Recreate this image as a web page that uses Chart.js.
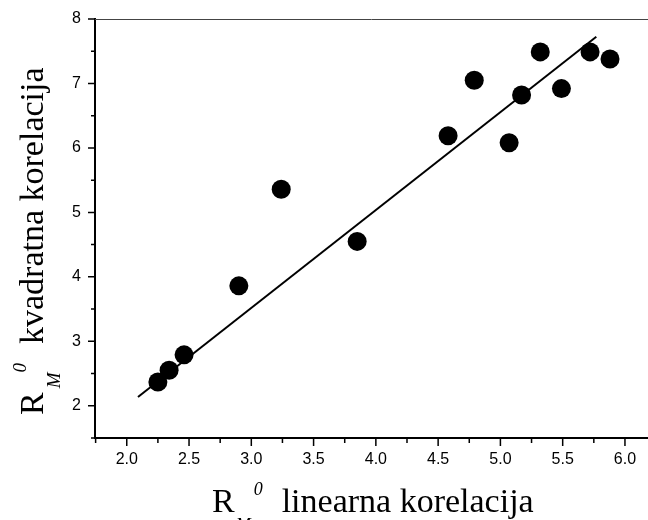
<!DOCTYPE html>
<html>
<head>
<meta charset="utf-8">
<script src="https://cdn.jsdelivr.net/npm/chart.js@4"></script>
<style>
  body { margin: 0; background: #fff; }
</style>
</head>
<body>
<canvas id="chart" width="648" height="520"></canvas>
<script>
// measured points: linear correlation (x) vs quadratic correlation (y)
var linearna = [2.25, 2.34, 2.46, 2.90, 3.24, 3.85, 4.58, 4.79, 5.07, 5.17, 5.32, 5.49, 5.72, 5.88];
var kvadratna = [2.37, 2.55, 2.79, 3.86, 5.36, 4.55, 6.19, 7.05, 6.08, 6.82, 7.49, 6.92, 7.49, 7.38];
// fitted line ends
var fitX = [2.09, 5.77];
var fitY = [2.135, 7.725];

var xTicks = [2.0, 2.5, 3.0, 3.5, 4.0, 4.5, 5.0, 5.5, 6.0];
var xMinor = [1.75, 2.25, 2.75, 3.25, 3.75, 4.25, 4.75, 5.25, 5.75];
var yTicks = [2, 3, 4, 5, 6, 7, 8];
var yMinor = [1.5, 2.5, 3.5, 4.5, 5.5, 6.5, 7.5];

var points = linearna.map(function(v, i){ return {x: v, y: kvadratna[i]}; });
var fit = fitX.map(function(v, i){ return {x: v, y: fitY[i]}; });

function drawTitle(ctx, o) {
    ctx.font = o.size + 'px "Liberation Serif"';
    ctx.fillText('R', 0, 0);
    var x = ctx.measureText('R').width + o.subGap;
    ctx.font = 'italic ' + o.small + 'px "Liberation Serif"';
    ctx.fillText('M', x, o.subDy);
    x += ctx.measureText('M').width + o.supGap;
    ctx.fillText('0', x, o.supDy);
    x += ctx.measureText('0').width + o.restGap;
    ctx.font = o.size + 'px "Liberation Serif"';
    ctx.fillText(o.text, x, 0);
}

var decor = {
    id: 'decor',
    afterDraw: function(chart) {
        var ctx = chart.ctx, a = chart.chartArea;
        var xs = chart.scales.x, ys = chart.scales.y;
        ctx.save();
        // top frame line
        ctx.strokeStyle = '#444';
        ctx.lineWidth = 1;
        ctx.beginPath();
        ctx.moveTo(a.left, a.top + 0.5);
        ctx.lineTo(a.right, a.top + 0.5);
        ctx.stroke();
        // ticks
        ctx.strokeStyle = '#000';
        ctx.lineWidth = 1.5;
        ctx.beginPath();
        xTicks.forEach(function(v){ var p = xs.getPixelForValue(v); ctx.moveTo(p, a.bottom); ctx.lineTo(p, a.bottom + 8); });
        xMinor.forEach(function(v){ var p = xs.getPixelForValue(v); ctx.moveTo(p, a.bottom); ctx.lineTo(p, a.bottom + 5); });
        yTicks.forEach(function(v){ var p = ys.getPixelForValue(v); ctx.moveTo(a.left, p); ctx.lineTo(a.left - 7, p); });
        yMinor.forEach(function(v){ var p = ys.getPixelForValue(v); ctx.moveTo(a.left, p); ctx.lineTo(a.left - 4, p); });
        ctx.stroke();

        ctx.fillStyle = '#000';
        ctx.textBaseline = 'alphabetic';
        ctx.textAlign = 'left';
        // x title
        ctx.save();
        ctx.translate(212, 512);
        drawTitle(ctx, {size: 34, small: 18, subGap: 1, subDy: 19, supGap: 3, supDy: -17, restGap: 19,
                        text: 'linearna korelacija'});
        ctx.restore();
        // y title
        ctx.save();
        ctx.translate(43, 415);
        ctx.rotate(-Math.PI / 2);
        drawTitle(ctx, {size: 34, small: 19, subGap: 4, subDy: 17, supGap: 0, supDy: -17, restGap: 19,
                        text: 'kvadratna korelacija'});
        ctx.restore();
        ctx.restore();
    }
};

var ctx = document.getElementById('chart');
var chart = new Chart(ctx, {
    type: 'scatter',
    data: {
        datasets: [{
            data: points,
            backgroundColor: '#000',
            borderWidth: 0,
            pointRadius: 9.5,
            pointHoverRadius: 9.5
        }, {
            type: 'line',
            data: fit,
            borderColor: '#000',
            borderWidth: 2,
            pointRadius: 0,
            fill: false
        }]
    },
    options: {
        responsive: false,
        animation: false,
        devicePixelRatio: 1,
        layout: { autoPadding: false, padding: { top: 19, right: 0, left: 0, bottom: 0 } },
        plugins: { legend: { display: false }, tooltip: { enabled: false } },
        scales: {
            x: {
                type: 'linear',
                min: 1.745,
                max: 6.185,
                afterFit: function(s){ s.height = 82; s.paddingLeft = 0; s.paddingRight = 0; },
                afterBuildTicks: function(s){ s.ticks = xTicks.map(function(v){ return {value: v}; }); },
                grid: { display: false, drawTicks: false },
                border: { display: true, color: '#000', width: 2 },
                ticks: {
                    padding: 12,
                    color: '#000',
                    font: { family: '"Liberation Sans", Arial', size: 16 },
                    callback: function(v){ return v.toFixed(1); }
                }
            },
            y: {
                type: 'linear',
                min: 1.5,
                max: 8,
                afterFit: function(s){ s.width = 95; s.paddingTop = 0; s.paddingBottom = 0; },
                afterBuildTicks: function(s){ s.ticks = yTicks.map(function(v){ return {value: v}; }); },
                grid: { display: false, drawTicks: false },
                border: { display: true, color: '#000', width: 2 },
                ticks: {
                    padding: 14,
                    color: '#000',
                    font: { family: '"Liberation Sans", Arial', size: 16 },
                    callback: function(v){ return String(v); }
                }
            }
        }
    },
    plugins: [decor]
});
</script>
</body>
</html>
